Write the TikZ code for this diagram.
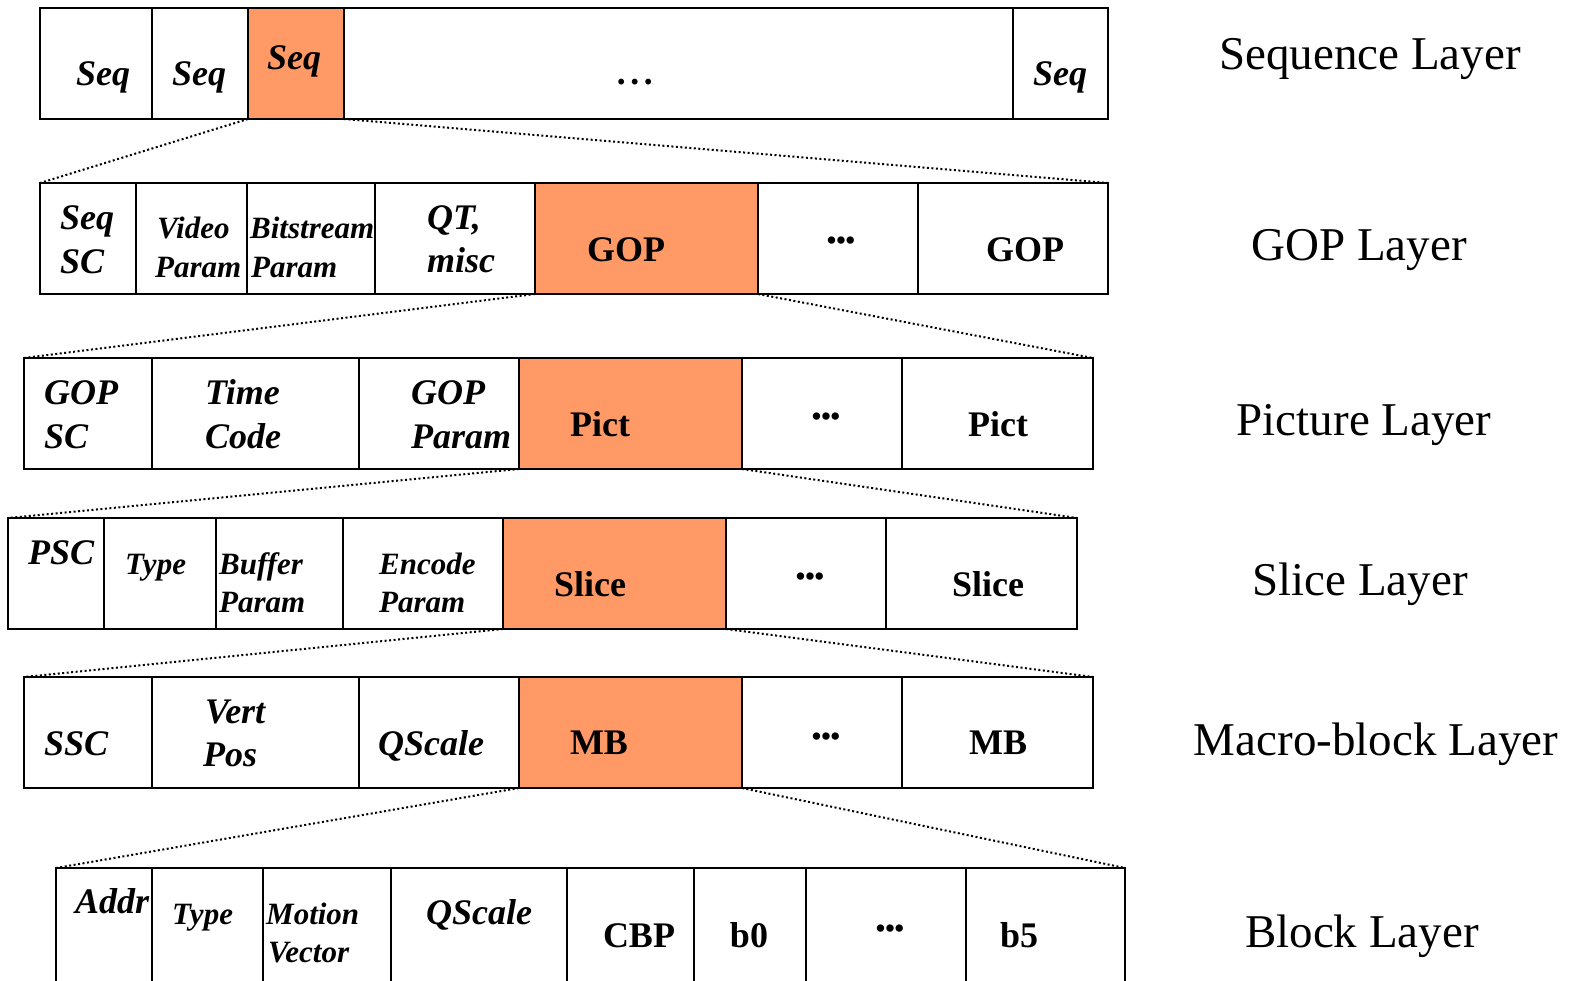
\documentclass[tikz,border=0pt]{standalone}
\usepackage{fontspec}
\setmainfont{Liberation Serif}
\definecolor{hl}{RGB}{255,153,102}
\tikzset{
  cellbox/.style={draw=black, line width=2.5pt, fill=white, inner sep=0pt, outer sep=0pt, rectangle},
  hlbox/.style={cellbox, fill=hl},
  bi/.style={font=\fontsize{36}{40}\selectfont\bfseries\itshape, inner sep=0pt},
  bis/.style={font=\fontsize{31}{36}\selectfont\bfseries\itshape, inner sep=0pt},
  bu/.style={font=\fontsize{36}{40}\selectfont\bfseries, inner sep=0pt},
  dts/.style={font=\fontsize{27}{30}\selectfont\bfseries, inner sep=0pt},
  lab/.style={font=\fontsize{47}{52}\selectfont, inner sep=0pt, anchor=base},
  zoomline/.style={line width=2pt, dash pattern=on 2pt off 2.5pt}
}
\newcommand{\cellbox}[6][cellbox]{\node[#1,minimum width={#5-#3},minimum height={#6-#4}] (#2) at ({(#3+#5)/2},{(#4+#6)/2}) {};}
\begin{document}
\begin{tikzpicture}[x=1pt,y=-1pt]
\useasboundingbox (0,0) rectangle (1574,981);
\clip (0,0) rectangle (1574,981);
% ---------- Row 1: Sequence layer
\cellbox{a1}{40}{8}{152}{119}
\cellbox{a2}{152}{8}{248}{119}
\cellbox[hlbox]{a3}{248}{8}{344}{119}
\cellbox{a4}{344}{8}{1013}{119}
\cellbox{a5}{1013}{8}{1108}{119}
\node[bi,anchor=base west] (ta1) at (76,86) {Seq};
\node[bi,anchor=base west] (ta2) at (172,86) {Seq};
\node[bi,anchor=base west] (ta3) at (267,70) {Seq};
\node[bi,anchor=center] (ta4) at (636,82) {.\kern4.5pt.\kern4.5pt.};
\node[bi,anchor=base west] (ta5) at (1033,86) {Seq};
% ---------- Row 2: GOP layer
\cellbox{b1}{40}{183}{136}{294}
\cellbox{b2}{136}{183}{247}{294}
\cellbox{b3}{247}{183}{375}{294}
\cellbox{b4}{375}{183}{535}{294}
\cellbox[hlbox]{b5}{535}{183}{758}{294}
\cellbox{b6}{758}{183}{918}{294}
\cellbox{b7}{918}{183}{1108}{294}
\node[bi,anchor=base west] (tb1a) at (60,230) {Seq};
\node[bi,anchor=base west] (tb1b) at (60,274) {SC};
\node[bis,anchor=base west] (tb2a) at (157,239) {Video};
\node[bis,anchor=base west] (tb2b) at (155,278) {Param};
\node[bis,anchor=base west] (tb3a) at (250,239) {Bitstream};
\node[bis,anchor=base west] (tb3b) at (251,278) {Param};
\node[bi,anchor=base west] (tb4a) at (427,230) {QT,};
\node[bi,anchor=base west] (tb4b) at (427,273) {misc};
\node[bu,anchor=base] (tb5) at (626,262) {GOP};
\node[dts,anchor=center] (tb6) at (841,243) {•••};
\node[bu,anchor=base] (tb7) at (1025,262) {GOP};
% ---------- Row 3: Picture layer
\cellbox{c1}{24}{358}{152}{469}
\cellbox{c2}{152}{358}{359}{469}
\cellbox{c3}{359}{358}{519}{469}
\cellbox[hlbox]{c4}{519}{358}{742}{469}
\cellbox{c5}{742}{358}{902}{469}
\cellbox{c6}{902}{358}{1093}{469}
\node[bi,anchor=base west] (tc1a) at (44,404) {GOP};
\node[bi,anchor=base west] (tc1b) at (44,448) {SC};
\node[bi,anchor=base west] (tc2a) at (205,404) {Time};
\node[bi,anchor=base west] (tc2b) at (205,448) {Code};
\node[bi,anchor=base west] (tc3a) at (411,404) {GOP};
\node[bi,anchor=base west] (tc3b) at (411,448) {Param};
\node[bu,anchor=base] (tc4) at (600,436) {Pict};
\node[dts,anchor=center] (tc5) at (826,419) {•••};
\node[bu,anchor=base] (tc6) at (998,436) {Pict};
% ---------- Row 4: Slice layer
\cellbox{d1}{8}{518}{104}{629}
\cellbox{d2}{104}{518}{216}{629}
\cellbox{d3}{216}{518}{343}{629}
\cellbox{d4}{343}{518}{503}{629}
\cellbox[hlbox]{d5}{503}{518}{726}{629}
\cellbox{d6}{726}{518}{886}{629}
\cellbox{d7}{886}{518}{1077}{629}
\node[bi,anchor=base west] (td1) at (28,564) {PSC};
\node[bis,anchor=base west] (td2) at (125,574) {Type};
\node[bis,anchor=base west] (td3a) at (219,574) {Buffer};
\node[bis,anchor=base west] (td3b) at (219,612) {Param};
\node[bis,anchor=base west] (td4a) at (379,574) {Encode};
\node[bis,anchor=base west] (td4b) at (379,612) {Param};
\node[bu,anchor=base] (td5) at (590,596) {Slice};
\node[dts,anchor=center] (td6) at (810,579) {•••};
\node[bu,anchor=base] (td7) at (988,596) {Slice};
% ---------- Row 5: Macro-block layer
\cellbox{e1}{24}{677}{152}{788}
\cellbox{e2}{152}{677}{359}{788}
\cellbox{e3}{359}{677}{519}{788}
\cellbox[hlbox]{e4}{519}{677}{742}{788}
\cellbox{e5}{742}{677}{902}{788}
\cellbox{e6}{902}{677}{1093}{788}
\node[bi,anchor=base west] (te1) at (44,755) {SSC};
\node[bi,anchor=base west] (te2a) at (205,723) {Vert};
\node[bi,anchor=base west] (te2b) at (203,766) {Pos};
\node[bi,anchor=base west] (te3) at (378,755) {QScale};
\node[bu,anchor=base] (te4) at (599,754) {MB};
\node[dts,anchor=center] (te5) at (826,739) {•••};
\node[bu,anchor=base] (te6) at (998,754) {MB};
% ---------- Row 6: Block layer
\cellbox{f1}{56}{868}{152}{1010}
\cellbox{f2}{152}{868}{263}{1010}
\cellbox{f3}{263}{868}{391}{1010}
\cellbox{f4}{391}{868}{567}{1010}
\cellbox{f5}{567}{868}{694}{1010}
\cellbox{f6}{694}{868}{806}{1010}
\cellbox{f7}{806}{868}{966}{1010}
\cellbox{f8}{966}{868}{1125}{1010}
\node[bi,anchor=base west] (tf1) at (75,913) {Addr};
\node[bis,anchor=base west] (tf2) at (172,924) {Type};
\node[bis,anchor=base west] (tf3a) at (266,924) {Motion};
\node[bis,anchor=base west] (tf3b) at (268,962) {Vector};
\node[bi,anchor=base west] (tf4) at (426,924) {QScale};
\node[bu,anchor=base] (tf5) at (639,947) {CBP};
\node[bu,anchor=base] (tf6) at (749,947) {b0};
\node[dts,anchor=center] (tf7) at (890,931) {•••};
\node[bu,anchor=base] (tf8) at (1019,947) {b5};
% ---------- Layer labels
\node[lab] (la) at (1370,70) {Sequence Layer};
\node[lab] (lb) at (1359,261) {GOP Layer};
\node[lab] (lc) at (1364,435) {Picture Layer};
\node[lab] (ld) at (1360,595) {Slice Layer};
\node[lab] (le) at (1376,755) {Macro-block Layer};
\node[lab] (lf) at (1362,947) {Block Layer};
% ---------- Zoom connectors
\draw[zoomline] (a3.south west) -- (b1.north west);
\draw[zoomline] (a3.south east) -- (b7.north east);
\draw[zoomline] (b5.south west) -- (c1.north west);
\draw[zoomline] (b5.south east) -- (c6.north east);
\draw[zoomline] (c4.south west) -- (d1.north west);
\draw[zoomline] (c4.south east) -- (d7.north east);
\draw[zoomline] (d5.south west) -- (e1.north west);
\draw[zoomline] (d5.south east) -- (e6.north east);
\draw[zoomline] (e4.south west) -- (f1.north west);
\draw[zoomline] (e4.south east) -- (f8.north east);
\end{tikzpicture}
\end{document}
